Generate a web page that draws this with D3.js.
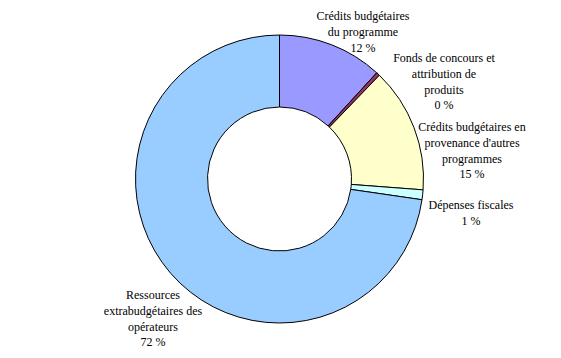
<!DOCTYPE html>
<html><head><meta charset="utf-8">
<script src="https://cdn.jsdelivr.net/npm/d3@7"></script>
<style>body{margin:0;background:#fff}svg{display:block}
.lbl{font-family:"Times New Roman","Liberation Serif","DejaVu Serif",serif;font-size:12px}</style>
</head><body>
<script>
const categories = [
  "Crédits budgétaires du programme",
  "Fonds de concours et attribution de produits",
  "Crédits budgétaires en provenance d'autres programmes",
  "Dépenses fiscales",
  "Ressources extrabudgétaires des opérateurs"
];
const values = [11.8, 0.4, 14.0, 1.1, 72.7];
const percentLabels = ["12 %", "0 %", "15 %", "1 %", "72 %"];
const labelLines = [
  ["Crédits budgétaires", "du programme"],
  ["Fonds de concours et", "attribution de", "produits"],
  ["Crédits budgétaires en", "provenance d'autres", "programmes"],
  ["Dépenses fiscales"],
  ["Ressources", "extrabudgétaires des", "opérateurs"]
];
const colors = ["#9999FF", "#993366", "#FFFFCC", "#CCFFFF", "#99CCFF"];

const W = 561, H = 358, cx = 279.5, cy = 179, rOut = 144, rIn = 72;
const labelAnchor = [[363, 16], [444, 58], [472, 127], [471, 205], [153, 295]];
const lineH = 15.8;

const svg = d3.select("body").append("svg").attr("width", W).attr("height", H);
const pie = d3.pie().sort(null).value(d => d)(values);
const arc = d3.arc().innerRadius(rIn).outerRadius(rOut);
const g = svg.append("g").attr("transform", `translate(${cx},${cy})`);
g.selectAll("path").data(pie).join("path")
  .attr("d", arc)
  .attr("fill", (d, i) => colors[i])
  .attr("stroke", "#000").attr("stroke-width", 1);

const lab = svg.append("g").attr("class", "lbl").attr("fill", "#000").attr("text-anchor", "middle");
labelLines.forEach((lines, i) => {
  const all = lines.concat([percentLabels[i]]);
  const t = lab.append("text");
  all.forEach((s, k) => {
    t.append("tspan").attr("x", labelAnchor[i][0]).attr("y", labelAnchor[i][1] + k * lineH + 4).text(s);
  });
});
</script>
</body></html>
